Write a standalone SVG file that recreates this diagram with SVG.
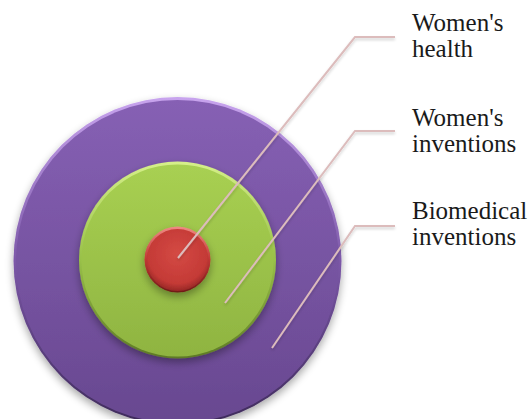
<svg xmlns="http://www.w3.org/2000/svg" width="531" height="419" viewBox="0 0 531 419">
<defs>
<linearGradient id="gPurple" x1="0" y1="0" x2="0" y2="1">
<stop offset="0" stop-color="#8660b4"/>
<stop offset="1" stop-color="#684890"/>
</linearGradient>
<linearGradient id="gPurpleRim" x1="0" y1="0" x2="0" y2="1">
<stop offset="0" stop-color="#c8a4ee"/>
<stop offset="0.5" stop-color="#7c58a8"/>
<stop offset="1" stop-color="#3e2a5a"/>
</linearGradient>
<linearGradient id="gGreen" x1="0" y1="0" x2="0" y2="1">
<stop offset="0" stop-color="#a8d052"/>
<stop offset="1" stop-color="#8fb441"/>
</linearGradient>
<linearGradient id="gGreenRim" x1="0" y1="0" x2="0" y2="1">
<stop offset="0" stop-color="#d6f08a"/>
<stop offset="0.5" stop-color="#98c048"/>
<stop offset="1" stop-color="#5e7a26"/>
</linearGradient>
<radialGradient id="gRed" cx="0.5" cy="0.4" r="0.6">
<stop offset="0" stop-color="#d44a44"/>
<stop offset="0.8" stop-color="#c43a36"/>
<stop offset="1" stop-color="#982826"/>
</radialGradient>
<linearGradient id="gRedRim" x1="0" y1="0" x2="0" y2="1">
<stop offset="0" stop-color="#f08a84"/>
<stop offset="0.5" stop-color="#c03834"/>
<stop offset="1" stop-color="#6e1a18"/>
</linearGradient>
<filter id="shadow" x="-20%" y="-20%" width="140%" height="150%">
<feGaussianBlur in="SourceAlpha" stdDeviation="4"/>
<feOffset dx="0" dy="4" result="b"/>
<feComponentTransfer><feFuncA type="linear" slope="0.35"/></feComponentTransfer>
<feMerge><feMergeNode/><feMergeNode in="SourceGraphic"/></feMerge>
</filter>
<filter id="lshadow" x="-10%" y="-10%" width="120%" height="140%">
<feGaussianBlur in="SourceAlpha" stdDeviation="1.5"/>
<feOffset dx="0" dy="2"/>
<feComponentTransfer><feFuncA type="linear" slope="0.2"/></feComponentTransfer>
<feMerge><feMergeNode/><feMergeNode in="SourceGraphic"/></feMerge>
</filter>
</defs>
<style>
.lbl { font-family: "Liberation Serif", "Times New Roman", serif; font-size: 25px; fill: #1a1a1a; }
.conn { fill: none; stroke: #dcbcbc; stroke-width: 2; }
</style>
<g id="node-biomedical" filter="url(#shadow)">
<circle cx="177.5" cy="261" r="164" fill="url(#gPurpleRim)"/>
<circle cx="177.5" cy="261.5" r="161.5" fill="url(#gPurple)"/>
</g>
<g id="node-womens-inventions" filter="url(#shadow)">
<circle cx="177.5" cy="260" r="98.5" fill="url(#gGreenRim)"/>
<circle cx="177.5" cy="260.5" r="96" fill="url(#gGreen)"/>
</g>
<g id="node-womens-health" filter="url(#shadow)">
<circle cx="177.5" cy="259.5" r="33" fill="url(#gRedRim)"/>
<circle cx="177.5" cy="260" r="31" fill="url(#gRed)"/>
</g>
<g id="connectors" filter="url(#lshadow)">
<polyline class="conn" points="178,258 355,37 395,37"/>
<polyline class="conn" points="225,303 355,131 395,131"/>
<polyline class="conn" points="272,348 355,226 395,226"/>
</g>
<g id="labels">
<text class="lbl" x="412" y="31">Women's</text>
<text class="lbl" x="412" y="57">health</text>
<text class="lbl" x="412" y="126">Women's</text>
<text class="lbl" x="412" y="152">inventions</text>
<text class="lbl" x="412" y="219">Biomedical</text>
<text class="lbl" x="412" y="245">inventions</text>
</g>
</svg>
